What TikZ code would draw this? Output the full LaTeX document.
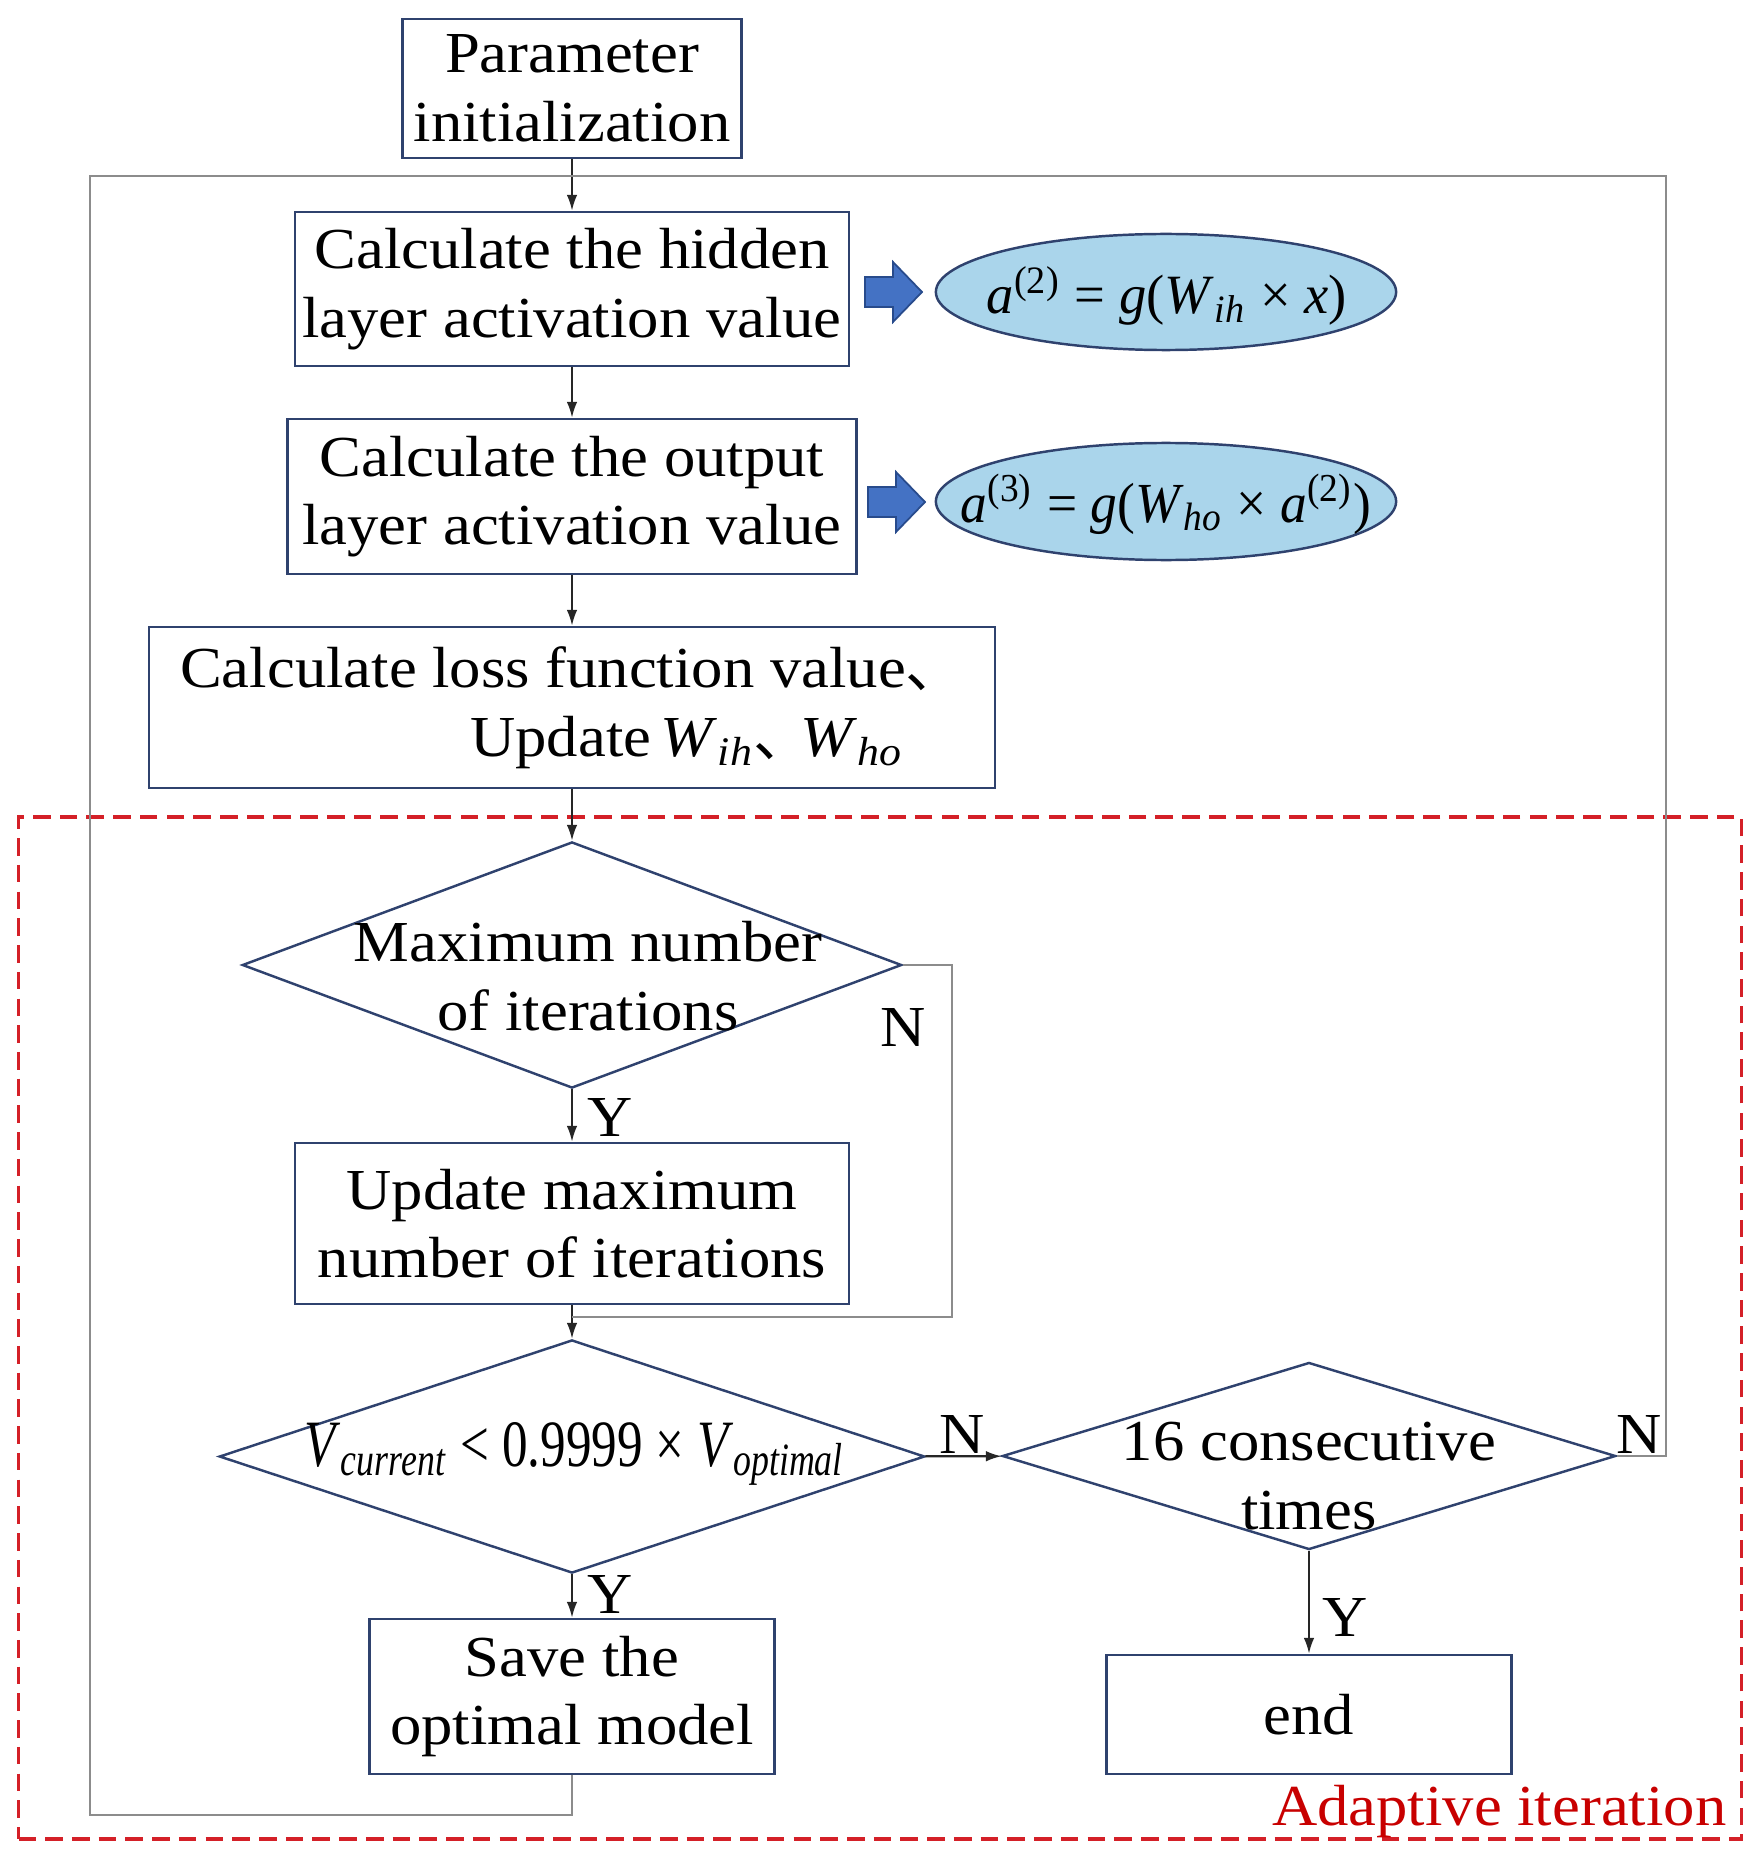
\documentclass[tikz,border=0pt]{standalone}
\usepackage{fontspec}
\usepackage{graphicx}
\setmainfont{Liberation Serif}[FakeStretch=1.08]
\newfontfamily\cjkfont{Noto Sans CJK SC}
\usetikzlibrary{shapes.geometric,arrows.meta}
\definecolor{navy}{RGB}{47,66,110}
\definecolor{loopgray}{RGB}{140,140,140}
\definecolor{ellfill}{RGB}{170,213,235}
\definecolor{arrfill}{RGB}{68,114,196}
\definecolor{arredge}{RGB}{40,75,140}
\definecolor{dashred}{RGB}{212,32,40}
\definecolor{labred}{RGB}{200,0,0}
\newcommand\mv[1]{\textit{#1}}
\newcommand\msub[2]{\textit{#1}\textsubscript{\textit{#2}}}
\newcommand\blockarrow[1]{%
  \filldraw[blk] (#1) ++(0,-15) -- ++(28,0) -- ++(0,-15) -- ++(29,30)
    -- ++(-29,30) -- ++(0,-15) -- ++(-28,0) -- cycle;}
\begin{document}
\begin{tikzpicture}[x=0.01cm,y=-0.01cm,
  txt/.style={font=\fontsize{16.5}{19.5}\selectfont, text=black},
  box/.style={draw=navy, line width=0.7pt, rectangle, fill=white, inner sep=0pt, txt, align=center},
  dia/.style={draw=navy, line width=0.7pt, diamond, inner sep=0pt},
  ell/.style={draw=navy, line width=0.7pt, ellipse, fill=ellfill, inner sep=0pt},
  flow/.style={draw=black!85, line width=0.6pt, -{Latex[length=4.5pt,width=3pt]}},
  back/.style={draw=loopgray, line width=0.6pt},
  yn/.style={txt, inner sep=0pt},
  blk/.style={fill=arrfill, draw=arredge, line width=0.5pt},
  region/.style={draw=dashred, line width=1.1pt, dash pattern=on 5pt off 2.6pt, rectangle, inner sep=0pt},
]
\useasboundingbox (0,0) rectangle (1762,1864);

% adaptive iteration region
\node[region, minimum width=17.22cm, minimum height=10.22cm] (adapt) at (880,1328) {};
\node[txt, text=labred, anchor=base east, inner sep=0pt] (adlab) at (1727,1825) {Adaptive iteration};

% loop coordinates
\coordinate (tl) at (90,176);
\coordinate (tr) at (1666,176);
\coordinate (j1) at (572,1317);
\coordinate (bl) at (572,1815);

% boxes
\node[box, minimum width=3.39cm, minimum height=1.39cm] (param) at (572,88.5) {Parameter\\initialization};
\node[box, minimum width=5.54cm, minimum height=1.54cm] (hid) at (572,289) {Calculate the hidden\\layer activation value};
\node[box, minimum width=5.69cm, minimum height=1.55cm] (outp) at (572,496.5) {Calculate the output\\layer activation value};
\node[box, minimum width=8.46cm, minimum height=1.61cm, align=left] (loss) at (572,707.5)
  {Calculate loss function value{\cjkfont 、}\\\hspace*{2.9cm}Update\,\msub{W}{ih}{\cjkfont 、}\hspace{-0.2em}\msub{W}{ho}};

\node[dia, minimum width=6.59cm, minimum height=2.46cm] (dia1) at (572,965) {};
\node[txt, align=center, inner sep=0pt] (dia1t) at (588,976) {Maximum number\\of iterations};

\node[box, minimum width=5.54cm, minimum height=1.61cm] (upd) at (572,1223.5) {Update maximum\\number of iterations};

\node[dia, minimum width=7.05cm, minimum height=2.33cm] (dia2) at (572,1456.5) {};
\node[inner sep=0pt, anchor=base] (dia2t) at (575,1466)
  {\resizebox{5.4cm}{0.44cm}{\msub{V}{current} < 0.9999 × \msub{V}{optimal}}};

\node[dia, minimum width=6.13cm, minimum height=1.87cm] (dia3) at (1309,1456) {};
\node[txt, align=center, inner sep=0pt] (dia3t) at (1309,1476) {16 consecutive\\times};

\node[box, minimum width=4.05cm, minimum height=1.55cm] (save) at (572,1696.5) {Save the\\optimal model};
\node[box, minimum width=4.05cm, minimum height=1.19cm] (endb) at (1309,1714.5) {end};

% ellipses with formulas
\node[ell, minimum width=4.60cm, minimum height=1.16cm] (ell1) at (1166,292) {};
\node[inner sep=0pt, anchor=base] (eq1) at (1167,314)
  {\resizebox{3.6cm}{0.47cm}{\mv{a}\textsuperscript{(2)} = \mv{g}(\msub{W}{ih} × \mv{x})}};
\node[ell, minimum width=4.60cm, minimum height=1.17cm] (ell2) at (1166,501.5) {};
\node[inner sep=0pt, anchor=base] (eq2) at (1166,522)
  {\resizebox{4.1cm}{0.48cm}{\mv{a}\textsuperscript{(3)} = \mv{g}(\msub{W}{ho} × \mv{a}\textsuperscript{(2)})}};

% block arrows
\coordinate (ba1) at (865,292);
\coordinate (ba2) at (868,502);
\blockarrow{ba1}
\blockarrow{ba2}

% connectors
\draw[flow] (param) -- (hid);
\draw[flow] (hid) -- (outp);
\draw[flow] (outp) -- (loss);
\draw[flow] (loss) -- (dia1);
\draw[flow] (dia1) -- (upd);
\draw[flow] (upd) -- (dia2);
\draw[back] (dia1.east) -- ++(49,0) |- (j1);
\draw[flow] (dia2) -- (dia3);
\draw[flow] (dia2) -- (save);
\draw[flow] (dia3) -- (endb);
\draw[back] (save.south) -- (bl) -| (tl) -- (tr) |- (dia3.east);

% Y / N labels
\node[yn] (y1) at (610,1117) {Y};
\node[yn] (n1) at (903,1027) {N};
\node[yn] (n2) at (962,1434) {N};
\node[yn] (y2) at (610,1594) {Y};
\node[yn] (n3) at (1639,1434) {N};
\node[yn] (y3) at (1345,1617) {Y};
\end{tikzpicture}
\end{document}
